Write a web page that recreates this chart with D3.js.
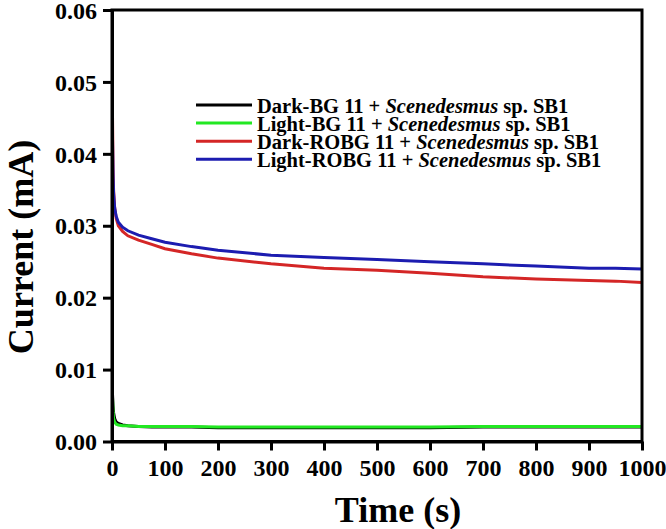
<!DOCTYPE html>
<html><head><meta charset="utf-8">
<script src="https://cdn.jsdelivr.net/npm/d3@7"></script>
<style>
body{margin:0;background:#fff;}
text{font-family:"Liberation Serif","Times New Roman",serif;font-weight:bold;}
</style></head>
<body><svg id="c" width="666" height="529"></svg>
<script>
const times = [0,1,2,3,5,8,12,20,30,50,75,100,150,200,300,400,500,600,700,800,900,950,1000];
const darkBG   = [0.0085,0.0065,0.0050,0.0040,0.0032,0.0027,0.0025,0.0023,0.0022,0.0021,0.0020,0.0020,0.0020,0.0019,0.0019,0.0019,0.0019,0.0019,0.0020,0.0020,0.0020,0.0020,0.0020];
const lightBG  = [0.0108,0.0060,0.0040,0.0032,0.0027,0.0024,0.0023,0.0022,0.0022,0.0021,0.0021,0.0021,0.0021,0.0020,0.0020,0.0020,0.0020,0.0020,0.0021,0.0021,0.0021,0.0021,0.0021];
const darkROBG = [0.0600,0.0450,0.0380,0.0350,0.0325,0.0310,0.0300,0.0292,0.0286,0.0280,0.0274,0.0268,0.0261,0.0255,0.0247,0.0241,0.0238,0.0234,0.0229,0.0226,0.0224,0.0223,0.0221];
const lightROBG= [0.0500,0.0420,0.0370,0.0345,0.0325,0.0313,0.0305,0.0298,0.0293,0.0287,0.0282,0.0277,0.0271,0.0266,0.0259,0.0256,0.0253,0.0250,0.0247,0.0244,0.0241,0.0241,0.0240];
const seriesNames = ["Dark-BG 11 + ","Light-BG 11 + ","Dark-ROBG 11 + ","Light-ROBG 11 + "];
const seriesColors = ["#000000","#22e822","#d42626","#1c1cb0"];
const xTicks = [0,100,200,300,400,500,600,700,800,900,1000];
const yTicks = [0,0.01,0.02,0.03,0.04,0.05,0.06];

const svg = d3.select("#c");
const L=112, R=642, T=10, B=441.5;
const x = d3.scaleLinear().domain([0,1000]).range([L,R]);
const y = d3.scaleLinear().domain([0,0.06]).range([B,T]);

const allSeries=[darkBG,lightBG,darkROBG,lightROBG];
svg.append("clipPath").attr("id","clip").append("rect").attr("x",L).attr("y",T).attr("width",R-L).attr("height",B-T);
const line=d3.line().x((d,i)=>x(times[i])).y(d=>y(d));
allSeries.forEach((s,k)=>{
  svg.append("path").datum(s).attr("d",line).attr("fill","none")
    .attr("stroke",seriesColors[k]).attr("stroke-width",3).attr("clip-path","url(#clip)");
});

// frame
svg.append("rect").attr("x",L).attr("y",T).attr("width",R-L).attr("height",B-T)
  .attr("fill","none").attr("stroke","#000").attr("stroke-width",3);

const xa = svg.append("g").attr("transform",`translate(0,${B})`)
  .call(d3.axisBottom(x).tickValues(xTicks).tickSize(9).tickSizeOuter(0).tickPadding(8).tickFormat(d3.format("d")));
const ya = svg.append("g").attr("transform",`translate(${L},0)`)
  .call(d3.axisLeft(y).tickValues(yTicks).tickSize(9).tickSizeOuter(0).tickPadding(6).tickFormat(d3.format(".2f")));
[xa,ya].forEach(a=>{
  a.select(".domain").attr("stroke-width",3);
  a.selectAll(".tick line").attr("stroke-width",3);
  a.selectAll(".tick text").attr("font-size",24).attr("fill","#000")
   .attr("font-family","'Liberation Serif',serif").attr("font-weight","bold");
});
ya.selectAll(".tick text").attr("dy","0.34em");

svg.append("text").attr("x",398).attr("y",522).attr("text-anchor","middle")
  .attr("font-size",36).text("Time (s)");
svg.append("text").attr("transform","translate(33,247) rotate(-90)").attr("text-anchor","middle")
  .attr("font-size",36).text("Current (mA)");

// legend
const lg = svg.append("g");
seriesNames.forEach((n,k)=>{
  const yy = 105 + k*18.1;
  lg.append("line").attr("x1",196).attr("x2",252).attr("y1",yy).attr("y2",yy)
    .attr("stroke",seriesColors[k]).attr("stroke-width",3);
  const t = lg.append("text").attr("x",257).attr("y",yy+7.5).attr("font-size",20.5);
  t.append("tspan").text(n);
  t.append("tspan").attr("font-style","italic").text("Scenedesmus");
  t.append("tspan").text(" sp. SB1");
});
</script></body></html>
